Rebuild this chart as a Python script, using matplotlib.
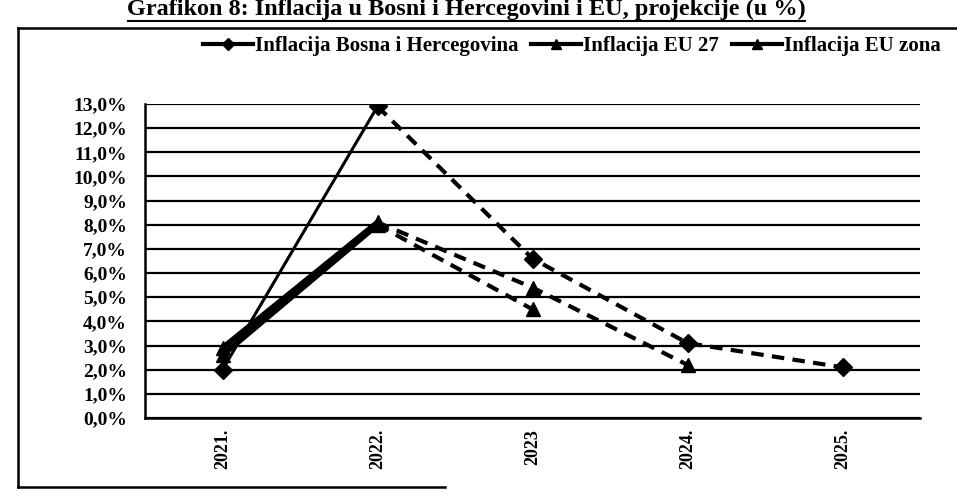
import numpy as np
import matplotlib
matplotlib.use('Agg')
import matplotlib.pyplot as plt
from matplotlib.lines import Line2D
from matplotlib.ticker import FixedLocator

plt.rcParams['font.family'] = ['Liberation Serif', 'DejaVu Serif']
plt.rcParams['font.weight'] = 'bold'

# data
years = ['2021.', '2022.', '2023', '2024.', '2025.']
bih = [2.0, 12.9, 6.6, 3.1, 2.1]
eu27 = [2.9, 8.1, 5.4, 2.2, np.nan]
eu_zona = [2.6, 8.0, 4.5, np.nan, np.nan]
y_ticks = list(range(0, 14))

W, H = 957, 503
fig = plt.figure(figsize=(W / 100, H / 100), dpi=100)
fig.patch.set_facecolor('white')

ax = fig.add_axes([145 / W, 1 - 418 / H, (920 - 145) / W, (418 - 104) / H])
x = np.arange(len(years))

def draw(vals, marker, lw_solid, ms):
    v = np.array(vals, dtype=float)
    # actual values solid, projections dashed
    ax.plot(x[:2], v[:2], color='black', lw=lw_solid, solid_capstyle='round', zorder=3)
    ax.plot(x[1:], v[1:], color='black', lw=3, linestyle=(0, (3, 2)), zorder=3)
    ax.plot(x, v, linestyle='none', marker=marker, color='black', ms=ms, zorder=4)

draw(bih, 'D', 2.2, 9)
draw(eu27, '^', 4, 10)
draw(eu_zona, '^', 4, 10)

ax.set_xlim(-0.5, len(years) - 0.5)
ax.set_ylim(0, 13)
ax.yaxis.set_major_locator(FixedLocator(y_ticks))
ax.set_yticklabels([f'{t},0%' for t in y_ticks], fontsize=14, fontweight='bold')
ax.set_xticks(x)
ax.set_xticklabels(years, rotation=90, fontsize=13, fontweight='bold')
ax.tick_params(axis='both', length=0)
ax.tick_params(axis='y', pad=13)
ax.tick_params(axis='x', pad=8)
ax.yaxis.grid(True, color='black', lw=1.6)
ax.set_axisbelow(True)
for s in ['top', 'right']:
    ax.spines[s].set_visible(False)
for s in ['left', 'bottom']:
    ax.spines[s].set_linewidth(1.8)

# legend
handles = [
    Line2D([], [], color='black', lw=3, marker='D', ms=6),
    Line2D([], [], color='black', lw=3, marker='^', ms=7),
    Line2D([], [], color='black', lw=3, marker='^', ms=7),
]
labels = ['Inflacija Bosna i Hercegovina', 'Inflacija EU 27', 'Inflacija EU zona']
fig.legend(handles, labels, loc='center', bbox_to_anchor=(572 / W, 1 - 46 / H), ncol=3,
           frameon=False, handlelength=2.4, handletextpad=0.1, columnspacing=0.6,
           prop={'size': 15, 'weight': 'bold'})

# frame of the scanned figure
fig.add_artist(Line2D([18 / W, 18 / W], [1 - 487 / H, 1 - 28 / H], color='black', lw=1.8))
fig.add_artist(Line2D([18 / W, 1.0], [1 - 28 / H, 1 - 28 / H], color='black', lw=1.8))
fig.add_artist(Line2D([18 / W, 445 / W], [1 - 487 / H, 1 - 487 / H], color='black', lw=1.8))

# title, cut at the top of the scan
fig.text(466 / W, 1 - 15 / H, 'Grafikon 8: Inflacija u Bosni i Hercegovini i EU, projekcije (u %)',
         ha='center', va='baseline', fontsize=17.5, fontweight='bold',
         bbox=dict(facecolor='white', edgecolor='none', pad=2))
fig.add_artist(Line2D([128 / W, 805 / W], [1 - 21 / H, 1 - 21 / H], color='black', lw=1.5,
                      zorder=5))

fig.savefig('out.png', dpi=100)
